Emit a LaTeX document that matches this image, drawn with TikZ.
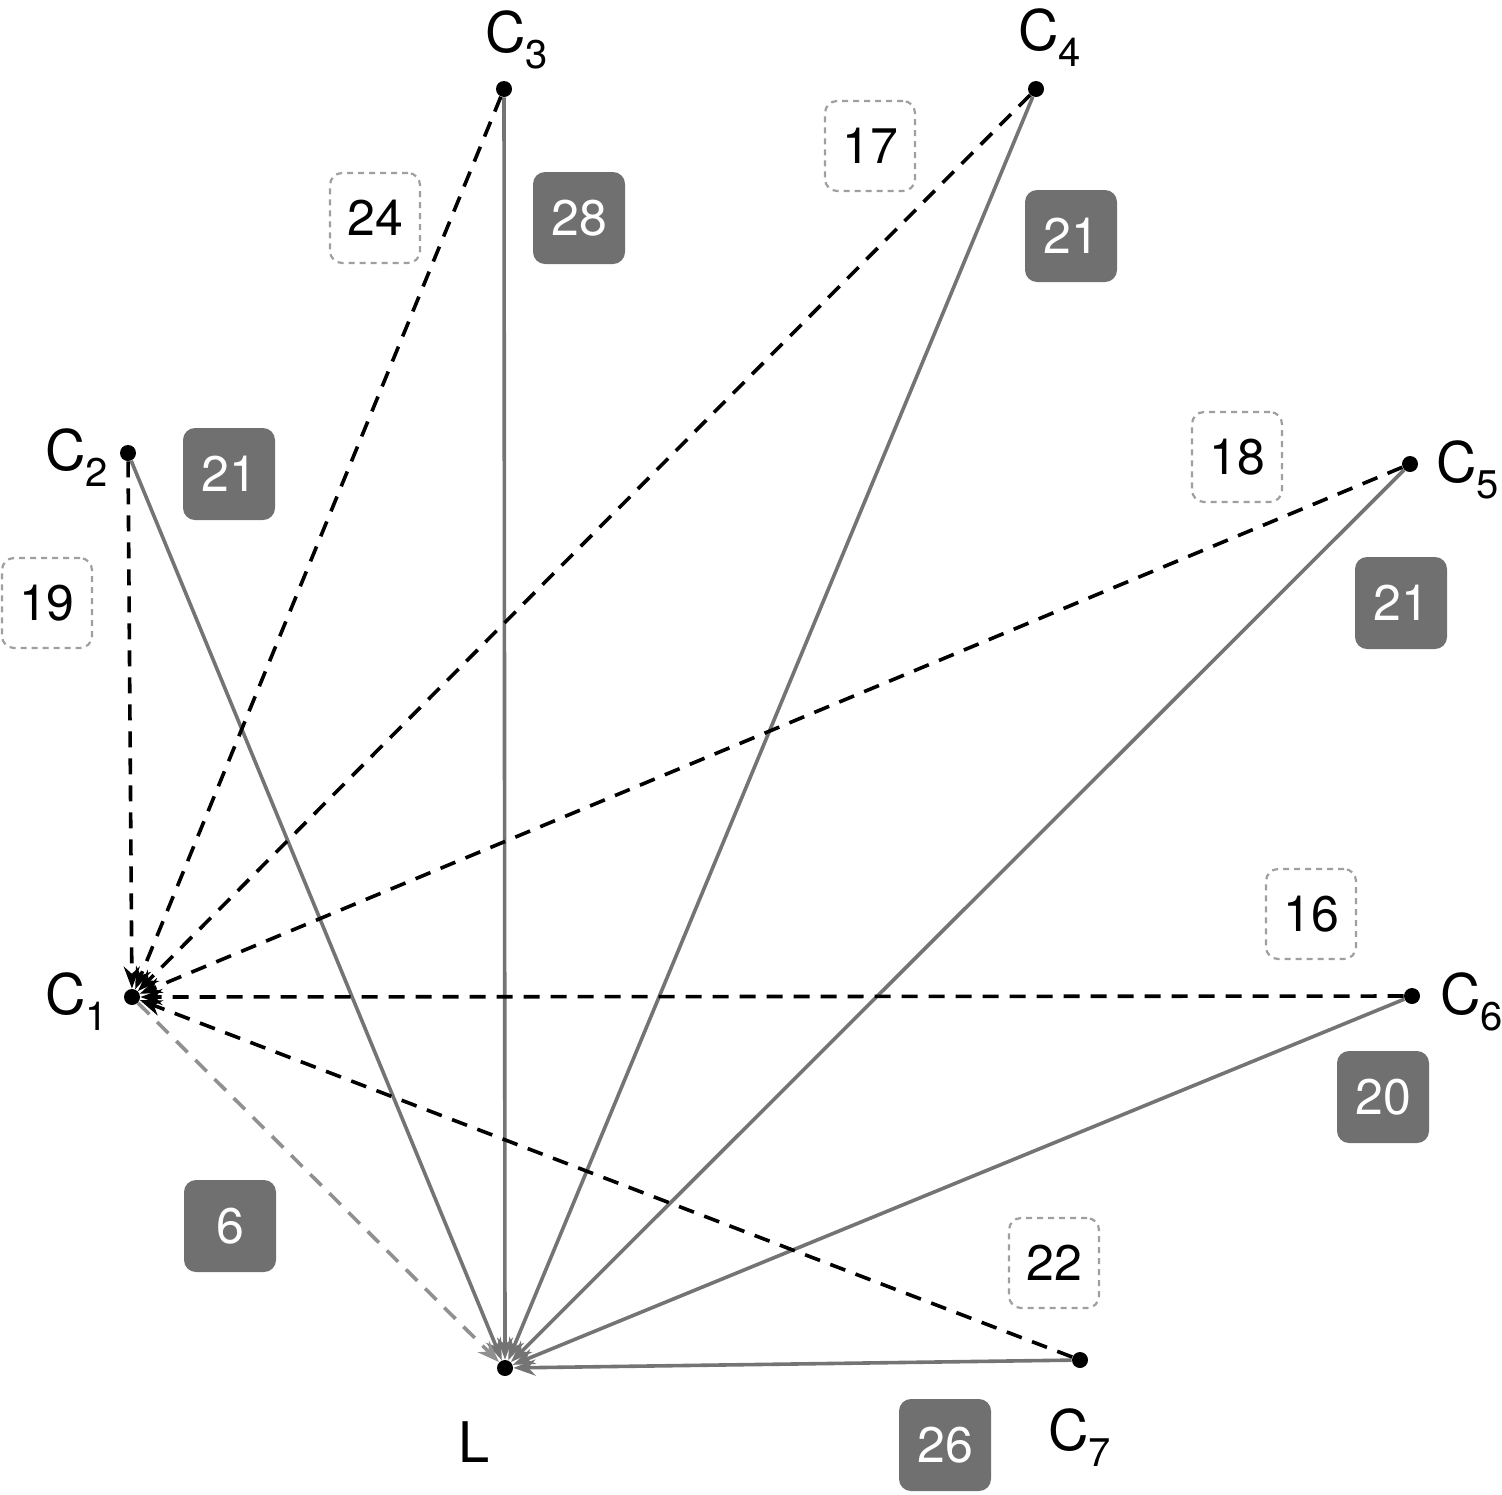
\documentclass[tikz,border=0pt]{standalone}
\usepackage{fontspec}
\setmainfont{TeX Gyre Heros}
\usetikzlibrary{arrows.meta}
\begin{document}
\begin{tikzpicture}[x=0.5pt,y=-0.5pt,
  pt/.style={circle,fill=black,inner sep=0pt,minimum size=8pt},
  lbl/.style={inner sep=0pt,font=\fontsize{28}{28}\selectfont},
  wbox/.style={draw=gray!75,dash pattern=on 3pt off 2.5pt,line width=1.1pt,rounded corners=6pt,minimum width=45pt,minimum height=45pt,fill=white,font=\fontsize{25}{25}\selectfont,text=black},
  gbox/.style={fill=gbcol,rounded corners=6pt,minimum width=46pt,minimum height=46pt,font=\fontsize{25}{25}\selectfont,text=white},
  dl/.style={draw=black,line width=1.8pt,dash pattern=on 8pt off 5.5pt,-{Stealth[length=11pt,width=8pt]}},
  sl/.style={draw=slcol,line width=1.8pt,-{Stealth[length=11pt,width=8pt]}},
  gl/.style={draw=slcol!80,line width=1.8pt,dash pattern=on 8pt off 5.5pt,-{Stealth[length=11pt,width=8pt]}}
]
\definecolor{gbcol}{HTML}{707070}
\definecolor{slcol}{HTML}{747474}
\newcommand{\cl}[1]{C\raisebox{-8pt}{\fontsize{20}{20}\selectfont #1}}
\useasboundingbox (0,0) rectangle (1502,1494);
% points
\node[pt] (c1) at (132,997) {};
\node[pt] (c2) at (128,453) {};
\node[pt] (c3) at (504,89) {};
\node[pt] (c4) at (1036,89) {};
\node[pt] (c5) at (1410,464) {};
\node[pt] (c6) at (1412,996) {};
\node[pt] (c7) at (1080,1360) {};
\node[pt] (L) at (505,1368) {};
% labels
\node[lbl,anchor=base west] (lc1) at (45,1014) {\cl{1}};
\node[lbl,anchor=base west] (lc2) at (45,470) {\cl{2}};
\node[lbl,anchor=base west] (lc3) at (485,52) {\cl{3}};
\node[lbl,anchor=base west] (lc4) at (1018,50) {\cl{4}};
\node[lbl,anchor=base west] (lc5) at (1436,482) {\cl{5}};
\node[lbl,anchor=base west] (lc6) at (1440,1014) {\cl{6}};
\node[lbl,anchor=base west] (lc7) at (1048,1450) {\cl{7}};
\node[lbl,anchor=base west] (lL) at (458,1462) {L};
% solid lines to L
\foreach \c in {c2,c3,c4,c5,c6,c7} \draw[sl] (\c) -- (L);
% dashed lines to C1
\foreach \c in {c2,c3,c4,c5,c6,c7} \draw[dl] (\c) -- (c1);
\draw[gl] (c1) -- (L);
% boxes
\node[gbox] (b28) at (579,218) {28};
\node[gbox] (b21a) at (1071,236) {21};
\node[gbox] (b21b) at (229,474) {21};
\node[gbox] (b21c) at (1401,603) {21};
\node[gbox] (b20) at (1383,1097) {20};
\node[gbox] (b6) at (230,1226) {6};
\node[gbox] (b26) at (945,1445) {26};
\node[wbox] (w24) at (375,218) {24};
\node[wbox] (w17) at (870,146) {17};
\node[wbox] (w19) at (47,603) {19};
\node[wbox] (w18) at (1237,457) {18};
\node[wbox] (w16) at (1311,914) {16};
\node[wbox] (w22) at (1054,1263) {22};
\end{tikzpicture}
\end{document}
